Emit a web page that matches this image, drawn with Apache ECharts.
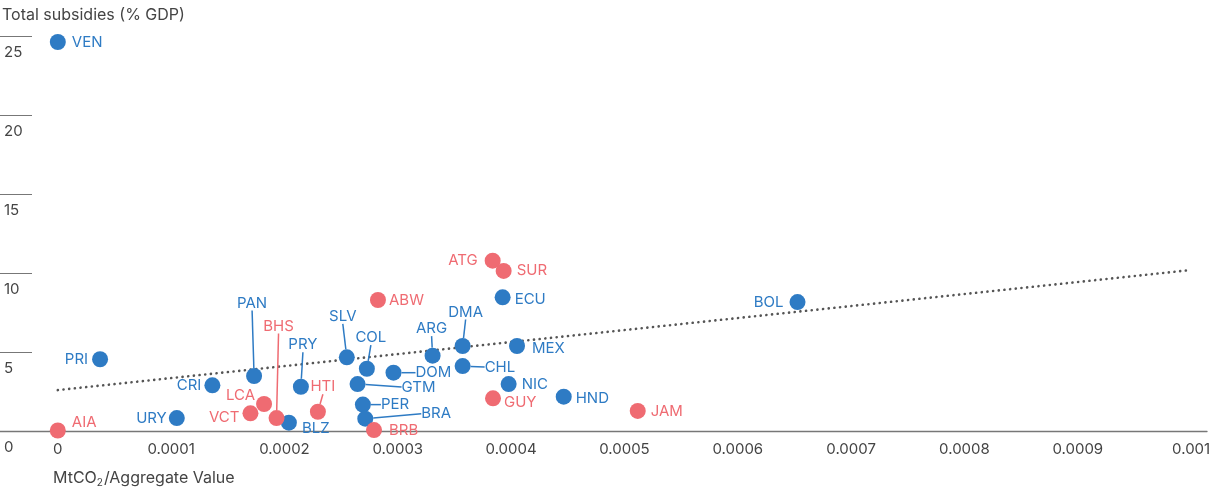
<!DOCTYPE html>
<html>
<head>
<meta charset="utf-8">
<script src="https://cdn.jsdelivr.net/npm/echarts@6/dist/echarts.min.js"></script>
<style>
  html, body { margin: 0; padding: 0; background: #fff; }
  #chart { width: 1210px; height: 491px; }
</style>
</head>
<body>
<div id="chart"></div>
<script>
// ---- Data ----
const blueNames = ['VEN','PRI','URY','CRI','PAN','BLZ','PRY','SLV','COL','GTM','DOM','PER','BRA','ARG','DMA','CHL','ECU','MEX','NIC','HND','BOL'];
const blueX = [0, 0.0000373, 0.000105, 0.0001364, 0.0001732, 0.0002039, 0.0002145, 0.000255, 0.0002727, 0.0002645, 0.0002962, 0.0002692, 0.0002713, 0.0003307, 0.0003572, 0.0003572, 0.0003925, 0.0004052, 0.0003978, 0.0004464, 0.0006527];
const blueY = [24.62, 4.54, 0.82, 2.89, 3.48, 0.53, 2.80, 4.66, 3.94, 2.97, 3.69, 1.67, 0.78, 4.77, 5.38, 4.11, 8.46, 5.38, 2.97, 2.17, 8.16];

const redNames = ['AIA','LCA','VCT','BHS','HTI','BRB','ABW','ATG','SUR','GUY','JAM'];
const redX = [0, 0.000182, 0.000170, 0.000193, 0.0002295, 0.000279, 0.0002825, 0.0003837, 0.0003934, 0.000384, 0.0005117];
const redY = [0.03, 1.71, 1.12, 0.82, 1.22, 0.06, 8.29, 10.78, 10.13, 2.07, 1.27];

const trendX = [0, 0.001];
const trendY = [2.59, 10.19];

const xTickValues = [0, 0.0001, 0.0002, 0.0003, 0.0004, 0.0005, 0.0006, 0.0007, 0.0008, 0.0009, 0.001];
const xTickLabels = ['0','0.0001','0.0002','0.0003','0.0004','0.0005','0.0006','0.0007','0.0008','0.0009','0.001'];
const yTickValues = [0, 5, 10, 15, 20, 25];
const yTickLabels = ['0','5','10','15','20','25'];

// ---- Label placement (layout, not data): [dx, dy, align, leaderLine] ----
const labelPlace = {
  VEN: [14, 0, 'left', false], PRI: [-12, 0, 'right', false], URY: [-10, 0, 'right', false],
  CRI: [-11, 0, 'right', false], PAN: [-2, -73, 'center', true], BLZ: [13, 6, 'left', false],
  PRY: [2, -42, 'center', true], SLV: [-4, -41, 'center', true], COL: [4, -31, 'center', true],
  GTM: [44, 3, 'left', true], DOM: [22, 0, 'left', true], PER: [18, 0, 'left', true],
  BRA: [56, -5, 'left', true], ARG: [-1, -27, 'center', true], DMA: [3, -34, 'center', true],
  CHL: [22, 1, 'left', true], ECU: [12, 2, 'left', false], MEX: [15, 2, 'left', false],
  NIC: [13, 0, 'left', false], HND: [12, 2, 'left', false], BOL: [-14, 0, 'right', false],
  AIA: [14, -8, 'left', false], LCA: [-9, -8, 'right', false], VCT: [-11, 4, 'right', false],
  BHS: [2, -92, 'center', true], HTI: [5, -25, 'center', true], BRB: [15, 0, 'left', false],
  ABW: [11, 0, 'left', false], ATG: [-15, 0, 'right', false], SUR: [13, 0, 'left', false],
  GUY: [11, 4, 'left', false], JAM: [13, 1, 'left', false]
};

const BLUE = '#2e7bc4';
const RED = '#ef6b72';
const FONT = 'Inter, "Noto Sans", sans-serif';

function buildData(names, xs, ys) {
  return names.map((n, i) => ({
    name: n,
    value: [xs[i], ys[i]],
    labelLine: { show: labelPlace[n][3] }
  }));
}

function makeLayout(names) {
  return function (params) {
    const p = labelPlace[names[params.dataIndex]];
    const r = params.rect;
    return {
      x: r.x + r.width / 2 + p[0],
      y: r.y + r.height / 2 + p[1],
      align: p[2],
      verticalAlign: 'middle'
    };
  };
}

function scatterSeries(names, xs, ys, color) {
  return {
    type: 'scatter',
    data: buildData(names, xs, ys),
    symbolSize: 16,
    clip: false,
    z: 3,
    itemStyle: { color: color, opacity: 1 },
    label: {
      show: true,
      formatter: '{b}',
      color: color,
      fontSize: 15,
      fontFamily: FONT
    },
    labelLine: { show: false, lineStyle: { color: color, width: 1.5 } },
    labelLayout: makeLayout(names),
    emphasis: { disabled: true }
  };
}

const chart = echarts.init(document.getElementById('chart'), null, { renderer: 'canvas' });
chart.setOption({
  animation: false,
  backgroundColor: '#fff',
  textStyle: { fontFamily: FONT },
  title: [
    { text: 'Total subsidies (% GDP)', left: 2, top: 7, padding: 0,
      textStyle: { fontSize: 16, fontWeight: 'normal', color: '#444', fontFamily: FONT } },
    { text: 'MtCO{s|2}/Aggregate Value', left: 53, top: 469, padding: 0,
      textStyle: { fontSize: 16, fontWeight: 'normal', color: '#444', fontFamily: FONT,
        rich: { s: { fontSize: 10, color: '#444', padding: [9, 1, 0, 0], fontFamily: FONT } } } }
  ],
  grid: { left: 0, right: 3, top: 36, bottom: 60, containLabel: false, outerBoundsMode: 'none' },
  xAxis: {
    type: 'value',
    min: -0.000051,
    max: 0.001014,
    splitLine: { show: false },
    axisTick: { show: false },
    axisLine: { show: true, lineStyle: { color: '#777', width: 1.3 } },
    axisLabel: {
      customValues: xTickValues,
      formatter: function (v) {
        let best = 0;
        for (let i = 0; i < xTickValues.length; i++) {
          if (Math.abs(xTickValues[i] - v) < Math.abs(xTickValues[best] - v)) best = i;
        }
        return xTickLabels[best];
      },
      color: '#444', fontSize: 15, margin: 11, fontFamily: FONT
    }
  },
  yAxis: {
    type: 'value',
    min: 0, max: 25, interval: 5,
    splitLine: { show: false },
    axisLine: { show: false, onZero: false },
    axisTick: { show: true, inside: true, length: 32, lineStyle: { color: '#777', width: 1 } },
    axisLabel: {
      inside: true,
      margin: 4,
      verticalAlign: 'top',
      padding: [9, 0, 0, 0],
      color: '#444', fontSize: 15, fontFamily: FONT,
      formatter: function (v) {
        const i = yTickValues.indexOf(v);
        return i >= 0 ? yTickLabels[i] : '';
      }
    }
  },
  series: [
    {
      type: 'line',
      data: trendX.map((x, i) => [x, trendY[i]]),
      showSymbol: false,
      symbol: 'none',
      z: 1,
      silent: true,
      lineStyle: { color: '#555', width: 2.6, type: [0.1, 5.6], cap: 'round' }
    },
    scatterSeries(blueNames, blueX, blueY, BLUE),
    scatterSeries(redNames, redX, redY, RED)
  ]
});
</script>
</body>
</html>
